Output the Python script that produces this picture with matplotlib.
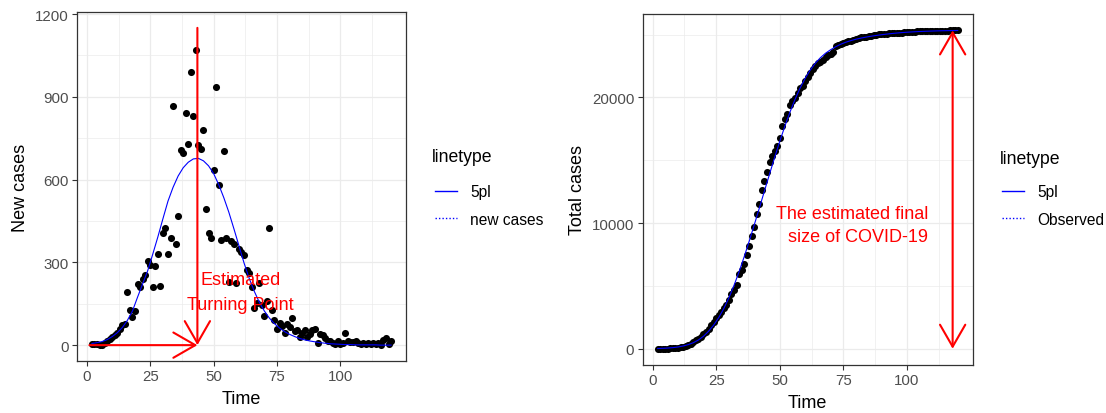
import matplotlib
matplotlib.use("Agg")
import matplotlib.pyplot as plt
from matplotlib.lines import Line2D

plt.rcParams['font.family'] = ['Liberation Sans', 'DejaVu Sans']

# --- daily observations (day 2 .. 120) ---
days = list(range(2, 121))

new_cases = [
    5, 4, 3, 0, 2, 8, 15, 24, 30, 38, 45, 60, 72, 78,
    191, 128, 101, 124, 222, 212, 240, 256, 305, 290, 211, 288, 329, 215, 405,
    425, 332, 389, 865, 368, 467, 708, 697, 842, 729, 991, 832, 1071, 724, 712,
    781, 495, 405, 389, 636, 937, 582, 380, 702, 388, 228, 378, 365, 224, 350,
    338, 326, 272, 262, 212, 136, 152, 225, 146, 105, 160, 425, 127, 90, 60,
    80, 70, 45, 75, 65, 100, 50, 55, 30, 45, 55, 30, 40, 55, 60,
    6, 40, 35, 25, 15, 15, 8, 5, 15, 5, 8, 45, 15, 10, 10,
    15, 6, 5, 8, 4, 6, 3, 6, 5, 8, 2, 20, 25, 4, 15,
]

total_cases = [
    5, 9, 12, 12, 14, 22, 37, 61, 91, 129,
    174, 234, 306, 384, 575, 703, 804, 928, 1150, 1362,
    1602, 1858, 2163, 2453, 2664, 2952, 3281, 3496, 3901, 4326,
    4658, 5047, 5912, 6280, 6747, 7455, 8152, 8994, 9723, 10714,
    11546, 12617, 13341, 14053, 14834, 15329, 15734, 16123, 16759, 17696,
    18278, 18658, 19360, 19748, 19976, 20354, 20719, 20943, 21293, 21631,
    21957, 22229, 22491, 22703, 22839, 22991, 23216, 23362, 23467,
    23627, 24052, 24179, 24269, 24329, 24409, 24479, 24524, 24599, 24664,
    24730, 24770, 24810, 24835, 24870, 24910, 24935, 24965, 25005, 25045,
    25050, 25080, 25105, 25125, 25137, 25150, 25157, 25162, 25175, 25180,
    25187, 25225, 25237, 25245, 25253, 25265, 25270, 25275, 25282, 25286,
    25291, 25294, 25299, 25303, 25310, 25312, 25328, 25348, 25352, 25365,
]

# --- fitted 5PL curves, sampled every 2 days ---
fit_days = list(range(2, 121, 2))
fit_new = [
    6, 9, 13, 20, 31, 45, 64, 90, 124, 174,
    222, 270, 330, 392, 458, 522, 572, 613, 643, 663,
    675, 677, 668, 650, 622, 582, 535, 482, 422, 360,
    298, 243, 196, 156, 124, 98, 78, 62, 49, 39,
    31, 24, 19, 15, 12, 9, 7, 5, 4, 3,
    2, 2, 1, 1, 1, 1, 1, 0, 0, 0,
]
fit_total = [
    20, 35, 57, 90, 141, 217, 326, 480, 694, 992,
    1388, 1880, 2480, 3202, 4052, 5032, 6126, 7311, 8567, 9873,
    11211, 12563, 13908, 15226, 16498, 17702, 18819, 19836, 20740, 21522,
    22180, 22721, 23160, 23512, 23792, 24030, 24230, 24390, 24520, 24630,
    24720, 24800, 24870, 24930, 24985, 25035, 25080, 25120, 25155, 25185,
    25210, 25232, 25250, 25266, 25280, 25292, 25302, 25310, 25317, 25323,
]

# annotation values
turning_day = 43.6
turning_top = 1150
arrow_start = 1
final_day = 118
final_size = 25330

GRID = '#EBEBEB'
BORDER = '#333333'
TICKLAB = '#4D4D4D'
ARROW = dict(arrowstyle='->,head_length=15.8,head_width=9.1', color='red',
             lw=1.5, shrinkA=0, shrinkB=0, mutation_scale=1)


def style_bw(ax, xmajor, xminor, ymajor, yminor):
    ax.set_xticks(xmajor)
    ax.set_xticks(xminor, minor=True)
    ax.set_yticks(ymajor)
    ax.set_yticks(yminor, minor=True)
    ax.grid(which='major', color=GRID, lw=0.9)
    ax.grid(which='minor', color=GRID, lw=0.5)
    ax.set_axisbelow(True)
    for s in ax.spines.values():
        s.set_color(BORDER)
        s.set_linewidth(0.9)
    ax.tick_params(which='major', length=3.5, width=0.8, color=BORDER,
                   labelcolor=TICKLAB, labelsize=10.8, pad=2.5)
    ax.tick_params(which='minor', length=0)


fig = plt.figure(figsize=(11.06, 4.14), dpi=100)
ax1 = fig.add_axes([0.0696, 0.1256, 0.2975, 0.843])
ax2 = fig.add_axes([0.5811, 0.1167, 0.2984, 0.847])

# ---- left: new cases ----
ax1.scatter(days, new_cases, s=26, color='black', lw=0, zorder=3)
ax1.plot(fit_days, fit_new, color='blue', lw=0.8, zorder=4)
ax1.annotate('', xy=(turning_day, 0), xytext=(turning_day, turning_top),
             arrowprops=ARROW, zorder=5)
ax1.annotate('', xy=(turning_day, 0), xytext=(arrow_start, 0),
             arrowprops=ARROW, zorder=5)
ax1.text(60.5, 193, 'Estimated\nTurning Point', color='red', fontsize=13,
         ha='center', va='center', linespacing=1.65, zorder=6)

xpad = 0.05 * (days[-1] - days[0])
ax1.set_xlim(days[0] - xpad, days[-1] + xpad)
ax1.set_ylim(-0.05 * turning_top, 1.05 * turning_top)
style_bw(ax1, [0, 25, 50, 75, 100], [12.5, 37.5, 62.5, 87.5, 112.5],
         [0, 300, 600, 900, 1200], [150, 450, 750, 1050])
ax1.set_xlabel('Time', fontsize=13, labelpad=5)
ax1.set_ylabel('New cases', fontsize=13, labelpad=4)

# ---- right: total cases ----
ax2.scatter(days, total_cases, s=26, color='black', lw=0, zorder=3)
ax2.plot(fit_days, fit_total, color='blue', lw=0.8, zorder=4)
ax2.annotate('', xy=(final_day, 0), xytext=(final_day, final_size),
             arrowprops=dict(ARROW, arrowstyle='<->,head_length=15.8,head_width=9.1'),
             zorder=5)
ax2.text(108.4, 9840, 'The estimated final\nsize of COVID-19', color='red',
         fontsize=13, ha='right', va='center', linespacing=1.5, zorder=6)

ytop = max(total_cases)
ax2.set_xlim(days[0] - xpad, days[-1] + xpad)
ax2.set_ylim(-0.05 * ytop, 1.05 * ytop)
style_bw(ax2, [0, 25, 50, 75, 100], [12.5, 37.5, 62.5, 87.5, 112.5],
         [0, 10000, 20000], [5000, 15000, 25000])
ax2.set_xlabel('Time', fontsize=13, labelpad=5)
ax2.set_ylabel('Total cases', fontsize=13, labelpad=4)


# ---- legends: title as its own text, keys below it ----
def linetype_legend(labels, title_xy, anchor):
    fig.text(title_xy[0], title_xy[1], 'linetype', fontsize=12.7,
             ha='left', va='center')
    handles = [Line2D([], [], color='blue', lw=1.0),
               Line2D([], [], color='blue', lw=1.0, linestyle=(0, (1, 1.5)))]
    fig.legend(handles, labels, loc='upper left', bbox_to_anchor=anchor,
               frameon=False, fontsize=11.2, handlelength=1.4,
               handletextpad=0.85, labelspacing=0.8)

linetype_legend(['5pl', 'new cases'], (432 / 1106, 1 - 157 / 414), (0.3807, 0.586))
linetype_legend(['5pl', 'Observed'], (1000 / 1106, 1 - 160 / 414), (0.8933, 0.586))

fig.savefig('out.png', dpi=100)
